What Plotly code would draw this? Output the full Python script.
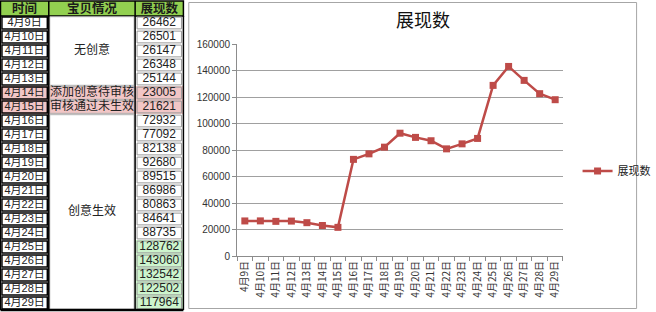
import plotly.graph_objects as go

# ---- data ----
dates = ["4月9日", "4月10日", "4月11日", "4月12日", "4月13日", "4月14日", "4月15日",
         "4月16日", "4月17日", "4月18日", "4月19日", "4月20日", "4月21日", "4月22日",
         "4月23日", "4月24日", "4月25日", "4月26日", "4月27日", "4月28日", "4月29日"]
views = [26462, 26501, 26147, 26348, 25144, 23005, 21621,
         72932, 77092, 82138, 92680, 89515, 86986, 80863,
         84641, 88735, 128762, 143060, 132542, 122502, 117964]
headers = ["时间", "宝贝情况", "展现数"]
# status groups: (label, first row, last row)
status_groups = [("无创意", 0, 4), ("添加创意待审核", 5, 5), ("审核通过未生效", 6, 6), ("创意生效", 7, 20)]
pink_rows = [5, 6]
green_rows = [16, 17, 18, 19, 20]
series_name = "展现数"
chart_title = "展现数"

W, H = 656, 312
LINE = "#BE4B48"
HEAD_GREEN = "#92D050"
PINK = "#F2C6C6"
LGREEN = "#CDF5CD"
col_edges = [0.5, 50, 138.5, 188]
n = len(dates)
TFONT = "Liberation Sans, Noto Sans CJK SC"

fig = go.Figure()

# ---- chart ----
fig.add_trace(go.Scatter(
    x=dates, y=views, name=series_name, mode="lines+markers",
    line=dict(color=LINE, width=2.5),
    marker=dict(symbol="square", size=7, color=LINE),
    hoverinfo="skip", xaxis="x", yaxis="y"))

# ---- table text ----
xc = [(col_edges[i] + col_edges[i + 1]) / 2 for i in range(3)]
fig.add_trace(go.Scatter(
    x=[xc[0]] * n, y=[i + 0.5 for i in range(n)], text=dates, mode="text",
    textfont=dict(family=TFONT, size=11, color="#222"),
    showlegend=False, hoverinfo="skip", xaxis="x2", yaxis="y2"))
fig.add_trace(go.Scatter(
    x=[xc[2]] * n, y=[i + 0.5 for i in range(n)], text=[str(v) for v in views], mode="text",
    textfont=dict(family="Liberation Sans", size=12, color="#222"),
    showlegend=False, hoverinfo="skip", xaxis="x2", yaxis="y2"))
fig.add_trace(go.Scatter(
    x=[xc[1]] * len(status_groups),
    y=[(a + b + 1) / 2 for _, a, b in status_groups],
    text=[s for s, _, _ in status_groups], mode="text",
    textfont=dict(family=TFONT, size=12, color="#222"),
    showlegend=False, hoverinfo="skip", xaxis="x2", yaxis="y2"))
fig.add_trace(go.Scatter(
    x=xc, y=[-0.45] * 3, text=["<b>%s</b>" % h for h in headers], mode="text",
    textfont=dict(family=TFONT, size=12.5, color="#1a1a1a"),
    showlegend=False, hoverinfo="skip", xaxis="x2", yaxis="y2"))

shapes = []
# chart border
shapes.append(dict(type="rect", xref="paper", yref="paper",
                   x0=193.5 / W, x1=652.5 / W, y0=1 - 308.5 / H, y1=1 - 2.5 / H,
                   line=dict(color="#A6A6A6", width=1), fillcolor="white", layer="below"))

def t(xr="x2", yr="y2", **kw):
    d = dict(xref=xr, yref=yr, layer="below")
    d.update(kw)
    return d

# header
shapes.append(t(type="rect", x0=col_edges[0], x1=col_edges[3], y0=-1.07, y1=0,
                fillcolor=HEAD_GREEN, line=dict(color="black", width=1.5)))
for e in col_edges[1:3]:
    shapes.append(t(type="line", x0=e, x1=e, y0=-1.07, y1=0, line=dict(color="black", width=1.5)))
# row fills
for r in pink_rows:
    shapes.append(t(type="rect", x0=col_edges[0], x1=col_edges[3], y0=r, y1=r + 1,
                    fillcolor=PINK, line=dict(width=0)))
for r in green_rows:
    shapes.append(t(type="rect", x0=col_edges[2], x1=col_edges[3], y0=r, y1=r + 1,
                    fillcolor=LGREEN, line=dict(width=0)))
# status cells outlines
for _, a, b in status_groups:
    shapes.append(t(type="rect", x0=col_edges[1] + 1, x1=col_edges[2] - 1, y0=a + 0.05, y1=b + 0.95,
                    line=dict(color="#B0B0B0", width=1)))
# value cells
for i in range(n):
    shapes.append(t(type="rect", x0=col_edges[2] + 2, x1=col_edges[3] - 2, y0=i + 0.08, y1=i + 0.92,
                    line=dict(color="#9A9A9A", width=1)))
# date cells
for i in range(n):
    shapes.append(t(type="rect", x0=col_edges[0] + 1.5, x1=col_edges[1] - 1.5, y0=i + 0.07, y1=i + 0.93,
                    line=dict(color="black", width=1.5)))
# vertical table borders
for e in col_edges[1:]:
    shapes.append(t(type="line", x0=e, x1=e, y0=0, y1=n, line=dict(color="black", width=1.5)))
shapes.append(t(type="line", x0=col_edges[0], x1=col_edges[0], y0=0, y1=n, line=dict(color="black", width=1)))
shapes.append(t(type="line", x0=col_edges[0], x1=col_edges[3], y0=n, y1=n, line=dict(color="black", width=2.5)))

fig.update_layout(
    width=W, height=H, margin=dict(l=0, r=0, t=0, b=0),
    paper_bgcolor="white", plot_bgcolor="rgba(0,0,0,0)",
    shapes=shapes,
    title=dict(text=chart_title, x=423 / W, xanchor="center", y=1 - 21 / H, yanchor="middle",
               font=dict(family="Noto Sans CJK SC", size=18, color="#111")),
    showlegend=True,
    legend=dict(x=592 / W, y=1 - 171 / H, xanchor="left", yanchor="middle",
                font=dict(family="Noto Sans CJK SC", size=11, color="#222"),
                bgcolor="rgba(0,0,0,0)", itemwidth=30),
    xaxis=dict(domain=[243 / W, 577 / W], type="category", tickangle=-90,
               range=[-0.5, n - 0.5], autorange=False,
               tickfont=dict(family="Noto Sans CJK SC", size=10, color="#333"),
               showline=True, linecolor="#8C8C8C", linewidth=1,
               ticks="outside", ticklen=4, tickcolor="#8C8C8C", tickson="boundaries",
               showgrid=False, zeroline=False, anchor="y", automargin=False),
    yaxis=dict(domain=[1 - 256 / H, 1 - 44 / H], range=[0, 160000], dtick=20000,
               tickfont=dict(family="Liberation Sans", size=10, color="#333"),
               showline=True, linecolor="#8C8C8C", linewidth=1,
               ticks="outside", ticklen=4, tickcolor="#8C8C8C",
               showgrid=True, gridcolor="#A0A0A0", gridwidth=1, zeroline=False,
               anchor="x", tickformat="d", automargin=False),
    xaxis2=dict(domain=[0, 190 / W], range=[0, 190], visible=False, anchor="y2", fixedrange=True),
    yaxis2=dict(domain=[0, 1], range=[(H - 16) / 14, -16 / 14], visible=False, anchor="x2", fixedrange=True),
)

fig.write_html("out.html")
